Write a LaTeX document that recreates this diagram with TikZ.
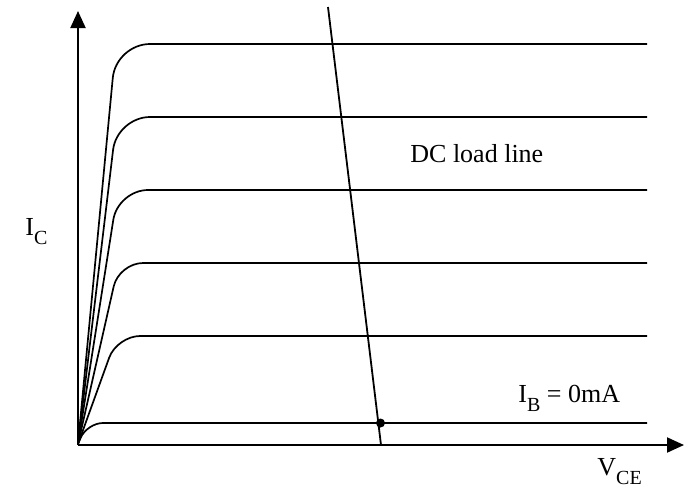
\documentclass[tikz,border=0pt]{standalone}
\usepackage{fontspec}
\setmainfont{Liberation Serif}
\usetikzlibrary{arrows.meta}
\newcommand{\mysub}[1]{\raisebox{-4.5pt}{\fontsize{10}{11}\selectfont #1}}
\tikzset{
  axis/.style={line width=1pt,-{Triangle[length=8.5pt,width=7.5pt]}},
  curve/.style={line width=0.85pt},
  lbl/.style={inner sep=0pt,anchor=base west,font=\fontsize{13}{15}\selectfont},
}
\begin{document}
\begin{tikzpicture}[x=0.5pt,y=-0.5pt]
\useasboundingbox (0,0) rectangle (690,488);
\coordinate (O) at (78,445);
\coordinate (ytop) at (78,11);
\coordinate (xend) at (684,445);
\draw[axis] (O) -- (ytop);
\draw[axis] (O) -- (xend);
% characteristic curves
\draw[curve,rounded corners=17pt] (78,444) -- (116,44) -- (647,44);
\draw[curve,rounded corners=16.5pt] (78,444) -- (117,117) -- (647,117);
\draw[curve,rounded corners=15pt] (78,444) -- (118,190) -- (647,190);
\draw[curve,rounded corners=12pt] (78,444) -- (119,263) -- (647,263);
\draw[curve,rounded corners=11.5pt] (78,444) -- (117,336) -- (647,336);
\draw[curve,rounded corners=8pt] (78,444) -- (87,423) -- (647,423);
% load line
\coordinate (LLtop) at (328,7);
\coordinate (LLbot) at (381,445);
\draw[line width=0.9pt] (LLtop) -- (LLbot);
\fill (380.5,423) circle (4.5);
% labels
\node[lbl] (ic) at (25,235) {I\mysub{C}};
\node[lbl] (dc) at (410,162) {DC load line};
\node[lbl] (ib) at (518,402) {I\mysub{B} = 0mA};
\node[lbl] (vce) at (597,475) {V\mysub{CE}};
\end{tikzpicture}
\end{document}
